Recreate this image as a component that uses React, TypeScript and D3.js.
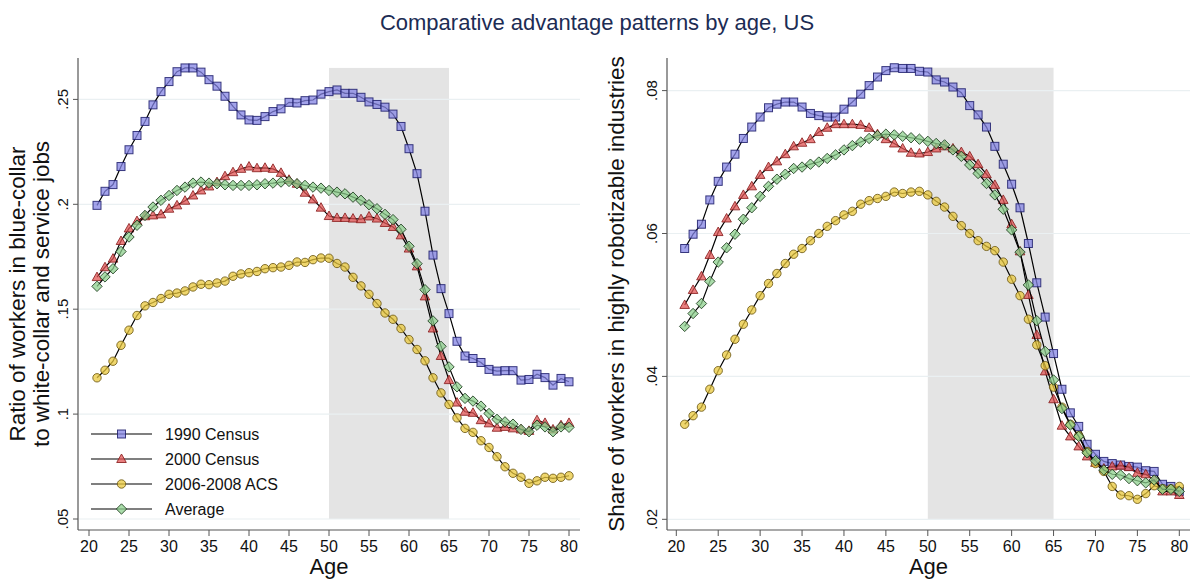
import React from "react";
import * as d3 from "d3";

const ages: number[] = d3.range(21, 81);
const xTicks = [20, 25, 30, 35, 40, 45, 50, 55, 60, 65, 70, 75, 80];
const leftYTicks = [0.05, 0.1, 0.15, 0.2, 0.25];
const leftYLabels = [".05", ".1", ".15", ".2", ".25"];
const rightYTicks = [0.02, 0.04, 0.06, 0.08];
const rightYLabels = [".02", ".04", ".06", ".08"];
const seriesNames = ["1990 Census", "2000 Census", "2006-2008 ACS", "Average"];

const blue1990 = [
  0.1995, 0.2062, 0.2094, 0.218, 0.226, 0.2328, 0.2395, 0.2474, 0.2537, 0.2585,
  0.2632, 0.265, 0.265, 0.263, 0.2594, 0.2563, 0.2515, 0.2467, 0.2426, 0.2402,
  0.24, 0.2418, 0.2442, 0.2455, 0.2486, 0.2483, 0.2494, 0.2497, 0.2525, 0.2537,
  0.2545, 0.2529, 0.2529, 0.251, 0.2488, 0.2476, 0.2463, 0.243, 0.2371, 0.2265,
  0.2146, 0.1967, 0.1758, 0.1598, 0.1479, 0.1347, 0.1277, 0.1265, 0.1246, 0.1213,
  0.1205, 0.1207, 0.1207, 0.1162, 0.1165, 0.119, 0.1174, 0.1138, 0.117, 0.1154,
];
const blue2000 = [
  0.1653, 0.17, 0.1741, 0.1825, 0.1885, 0.192, 0.1943, 0.1947, 0.1952, 0.1979,
  0.1995, 0.2017, 0.2042, 0.2066, 0.2085, 0.2106, 0.2134, 0.2153, 0.2169, 0.218,
  0.2172, 0.2174, 0.2169, 0.215, 0.2117, 0.2098, 0.2055, 0.2023, 0.1984, 0.1944,
  0.1935, 0.1935, 0.1932, 0.1929, 0.1942, 0.1932, 0.1911, 0.1892, 0.1852, 0.1789,
  0.1704, 0.1561, 0.1408, 0.1277, 0.1162, 0.1055, 0.1011, 0.1006, 0.0971, 0.0956,
  0.0935, 0.0939, 0.0932, 0.0927, 0.092, 0.0971, 0.0958, 0.0927, 0.0947, 0.0958,
];
const blueACS = [
  0.1173, 0.1209, 0.1252, 0.1328, 0.14, 0.147, 0.1516, 0.1532, 0.1551, 0.1571,
  0.1577, 0.1587, 0.1606, 0.1619, 0.1617, 0.1625, 0.1634, 0.1657, 0.1668, 0.1674,
  0.168, 0.1693, 0.1698, 0.1701, 0.1709, 0.1725, 0.1723, 0.1736, 0.1744, 0.1743,
  0.1718, 0.1701, 0.1652, 0.1611, 0.1571, 0.1527, 0.1482, 0.1452, 0.1408, 0.1355,
  0.1308, 0.1254, 0.1173, 0.1101, 0.1046, 0.0982, 0.0932, 0.0913, 0.0873, 0.0841,
  0.0797, 0.0749, 0.0718, 0.0699, 0.067, 0.0682, 0.0699, 0.0694, 0.0699, 0.0706,
];
const blueAvg = [
  0.1609, 0.1654, 0.1693, 0.1775, 0.1844, 0.19, 0.1947, 0.1987, 0.2019, 0.2042,
  0.2066, 0.2082, 0.2101, 0.2106, 0.2101, 0.2098, 0.2093, 0.209, 0.209, 0.209,
  0.2093, 0.2098, 0.2101, 0.2106, 0.2109, 0.2098, 0.209, 0.2082, 0.2077, 0.2066,
  0.2058, 0.205, 0.2034, 0.2019, 0.1998, 0.1979, 0.1952, 0.1927, 0.1881, 0.18,
  0.1717, 0.1593, 0.1444, 0.1323, 0.1225, 0.113, 0.1075, 0.1062, 0.1038, 0.1003,
  0.0975, 0.0963, 0.0952, 0.0927, 0.0916, 0.0947, 0.0939, 0.0916, 0.0939, 0.0937,
];

const robot1990 = [
  0.0579, 0.0599, 0.0613, 0.0647, 0.0673, 0.0693, 0.0711, 0.0733, 0.0749, 0.0763,
  0.0776, 0.0781, 0.0784, 0.0784, 0.0777, 0.0768, 0.0765, 0.0763, 0.0763, 0.0774,
  0.0784, 0.0795, 0.0807, 0.0819, 0.0828, 0.0832, 0.0831, 0.0831, 0.0827, 0.0826,
  0.0815, 0.0812, 0.0805, 0.0797, 0.0779, 0.0766, 0.0749, 0.0722, 0.0697, 0.0669,
  0.0636, 0.0586, 0.0531, 0.0483, 0.0432, 0.0382, 0.0349, 0.033, 0.0305, 0.0291,
  0.0281, 0.0278, 0.0276, 0.0274, 0.0273, 0.0268, 0.0267, 0.0249, 0.0246, 0.0239,
];
const robot2000 = [
  0.05, 0.0521, 0.054, 0.057, 0.0602, 0.0621, 0.0638, 0.0654, 0.0666, 0.0682,
  0.0693, 0.0701, 0.0711, 0.0722, 0.0727, 0.0732, 0.0742, 0.0748, 0.0753, 0.0753,
  0.0753, 0.0752, 0.0748, 0.0739, 0.0732, 0.0726, 0.0719, 0.0713, 0.0712, 0.0714,
  0.0719, 0.0722, 0.0719, 0.0714, 0.0708, 0.0697, 0.0683, 0.0668, 0.0647, 0.0613,
  0.0575, 0.0514, 0.0458, 0.0407, 0.0368, 0.0331, 0.0316, 0.0302, 0.0288, 0.0279,
  0.0271, 0.0274, 0.0275, 0.0273, 0.0265, 0.0263, 0.0255, 0.0239, 0.0239, 0.0234,
];
const robotACS = [
  0.0333, 0.0345, 0.0357, 0.0382, 0.0408, 0.043, 0.0452, 0.0473, 0.0493, 0.0513,
  0.053, 0.0544, 0.0558, 0.0571, 0.0579, 0.059, 0.06, 0.061, 0.0618, 0.0626,
  0.0631, 0.0641, 0.0646, 0.0649, 0.0652, 0.0658, 0.0656, 0.0658, 0.0659, 0.0654,
  0.0645, 0.0637, 0.0624, 0.0611, 0.06, 0.059, 0.0582, 0.0576, 0.056, 0.0536,
  0.0513, 0.048, 0.0444, 0.0415, 0.0385, 0.0357, 0.0333, 0.0317, 0.0295, 0.0278,
  0.0267, 0.0246, 0.0234, 0.0233, 0.0228, 0.0236, 0.0247, 0.0243, 0.0243, 0.0246,
];
const robotAvg = [
  0.047, 0.0488, 0.0502, 0.0533, 0.056, 0.058, 0.0599, 0.062, 0.0636, 0.0652,
  0.0666, 0.0676, 0.0683, 0.0691, 0.0693, 0.0697, 0.07, 0.0705, 0.071, 0.0717,
  0.0723, 0.0728, 0.0733, 0.0737, 0.0739, 0.0738, 0.0736, 0.0734, 0.0732, 0.0729,
  0.0726, 0.0724, 0.0717, 0.0708, 0.0696, 0.0684, 0.067, 0.0654, 0.0634, 0.0605,
  0.0574, 0.0528, 0.0478, 0.0435, 0.0395, 0.0355, 0.0332, 0.0316, 0.0293, 0.0282,
  0.0269, 0.0263, 0.0262, 0.0257, 0.0254, 0.0251, 0.0255, 0.0242, 0.0242, 0.0239,
];

const shadeRange = [50, 65];

const FONT = "'Liberation Sans', Arial, Helvetica, sans-serif";

type MarkerKind = "square" | "triangle" | "circle" | "diamond";
const styles: { kind: MarkerKind; fill: string; stroke: string }[] = [
  { kind: "square", fill: "#8484e4", stroke: "#1c1c6a" },
  { kind: "triangle", fill: "#e25454", stroke: "#8a1e1e" },
  { kind: "circle", fill: "#eac83c", stroke: "#6e5a18" },
  { kind: "diamond", fill: "#8ed08e", stroke: "#1c3a1c" },
];

function Marker({ kind, x, y, fill, stroke }: { kind: MarkerKind; x: number; y: number; fill: string; stroke: string }) {
  const common = { fill, stroke, fillOpacity: 0.75, strokeOpacity: 0.85, strokeWidth: 1 };
  if (kind === "square") return <rect x={x - 4} y={y - 4} width={8} height={8} {...common} />;
  if (kind === "circle") return <circle cx={x} cy={y} r={4.2} {...common} />;
  if (kind === "triangle")
    return <path d={`M${x},${y - 5}L${x + 4.8},${y + 3.5}L${x - 4.8},${y + 3.5}Z`} {...common} />;
  return <path d={`M${x},${y - 5.2}L${x + 5.2},${y}L${x},${y + 5.2}L${x - 5.2},${y}Z`} {...common} />;
}

type PanelProps = {
  series: number[][];
  axisX: number;
  axisRight: number;
  x20: number;
  x80: number;
  yDomain: [number, number];
  yRange: [number, number];
  yTicks: number[];
  yLabels: string[];
  yTitle: string[];
  titleX: number[];
  tickLabelX: number;
  legend?: boolean;
};

function Panel(p: PanelProps) {
  const axisTop = 58;
  const axisBottom = 530;
  const x = d3.scaleLinear().domain([20, 80]).range([p.x20, p.x80]);
  const y = d3.scaleLinear().domain(p.yDomain).range(p.yRange);
  const line = d3
    .line<number>()
    .x((_, i) => x(ages[i]))
    .y((d) => y(d));
  const maxVal = d3.max(p.series.flat()) as number;
  const midX = (p.axisX + p.axisRight) / 2;
  const midY = (axisTop + axisBottom) / 2;
  return (
    <g>
      <rect
        x={x(shadeRange[0])}
        width={x(shadeRange[1]) - x(shadeRange[0])}
        y={y(maxVal)}
        height={y(p.yDomain[0]) - y(maxVal)}
        fill="#e4e4e4"
      />
      {p.yTicks.map((t) => (
        <line key={t} x1={p.axisX + 1} x2={p.axisRight} y1={y(t)} y2={y(t)} stroke="#eaf0f2" strokeWidth={1.2} />
      ))}
      {p.series.map((s, si) => (
        <g key={si}>
          <path d={line(s) || ""} fill="none" stroke="#000" strokeWidth={1.2} />
          {s.map((v, i) => (
            <Marker key={i} kind={styles[si].kind} x={x(ages[i])} y={y(v)} fill={styles[si].fill} stroke={styles[si].stroke} />
          ))}
        </g>
      ))}
      <line x1={p.axisX} x2={p.axisX} y1={axisTop} y2={axisBottom} stroke="#555" strokeWidth={1.2} />
      <line x1={p.axisX} x2={p.axisRight} y1={axisBottom} y2={axisBottom} stroke="#555" strokeWidth={1.2} />
      {p.yTicks.map((t, i) => (
        <g key={t}>
          <line x1={p.axisX - 5} x2={p.axisX} y1={y(t)} y2={y(t)} stroke="#555" strokeWidth={1} />
          <text
            transform={`translate(${p.tickLabelX},${y(t)}) rotate(-90)`}
            textAnchor="middle"
            fontSize={15}
            fontFamily={FONT}
            fill="#111"
          >
            {p.yLabels[i]}
          </text>
        </g>
      ))}
      {xTicks.map((t) => (
        <g key={t}>
          <line x1={x(t)} x2={x(t)} y1={axisBottom} y2={axisBottom + 6} stroke="#555" strokeWidth={1} />
          <text x={x(t)} y={axisBottom + 22} textAnchor="middle" fontSize={16} fontFamily={FONT} fill="#111">
            {t}
          </text>
        </g>
      ))}
      <text x={midX} y={574} textAnchor="middle" fontSize={22} fontFamily={FONT} fill="#111">
        Age
      </text>
      {p.yTitle.map((t, i) => (
        <text
          key={i}
          transform={`translate(${p.titleX[i]},${midY}) rotate(-90)`}
          textAnchor="middle"
          fontSize={22.4}
          fontFamily={FONT}
          fill="#111"
          dominantBaseline="middle"
        >
          {t}
        </text>
      ))}
      {p.legend && (
        <g>
          {seriesNames.map((n, i) => {
            const ly = 434 + i * 25;
            return (
              <g key={n}>
                <line x1={91} x2={152} y1={ly} y2={ly} stroke="#000" strokeWidth={1.2} />
                <Marker kind={styles[i].kind} x={121.5} y={ly} fill={styles[i].fill} stroke={styles[i].stroke} />
                <text x={165} y={ly + 5.5} fontSize={16} fontFamily={FONT} fill="#111">
                  {n}
                </text>
              </g>
            );
          })}
        </g>
      )}
    </g>
  );
}

export default function App() {
  return (
    <svg
      width={1195}
      height={581}
      style={{ position: "absolute", left: 0, top: 0, background: "#fff" }}
      xmlns="http://www.w3.org/2000/svg"
    >
      <rect width={1195} height={581} fill="#fff" />
      <text x={597} y={30} textAnchor="middle" fontSize={22} fontFamily={FONT} fill="#1c2c54">
        Comparative advantage patterns by age, US
      </text>
      <Panel
        series={[blue1990, blue2000, blueACS, blueAvg]}
        axisX={78}
        axisRight={580}
        x20={89}
        x80={569}
        yDomain={[0.05, 0.25]}
        yRange={[519, 99.4]}
        yTicks={leftYTicks}
        yLabels={leftYLabels}
        yTitle={["Ratio of workers in blue-collar", "to white-collar and service jobs"]}
        titleX={[19, 43]}
        tickLabelX={68}
        legend
      />
      <Panel
        series={[robot1990, robot2000, robotACS, robotAvg]}
        axisX={667}
        axisRight={1190}
        x20={676.3}
        x80={1179.3}
        yDomain={[0.02, 0.08]}
        yRange={[519.3, 90.6]}
        yTicks={rightYTicks}
        yLabels={rightYLabels}
        yTitle={["Share of workers in highly robotizable industries"]}
        titleX={[618]}
        tickLabelX={657}
      />
    </svg>
  );
}
